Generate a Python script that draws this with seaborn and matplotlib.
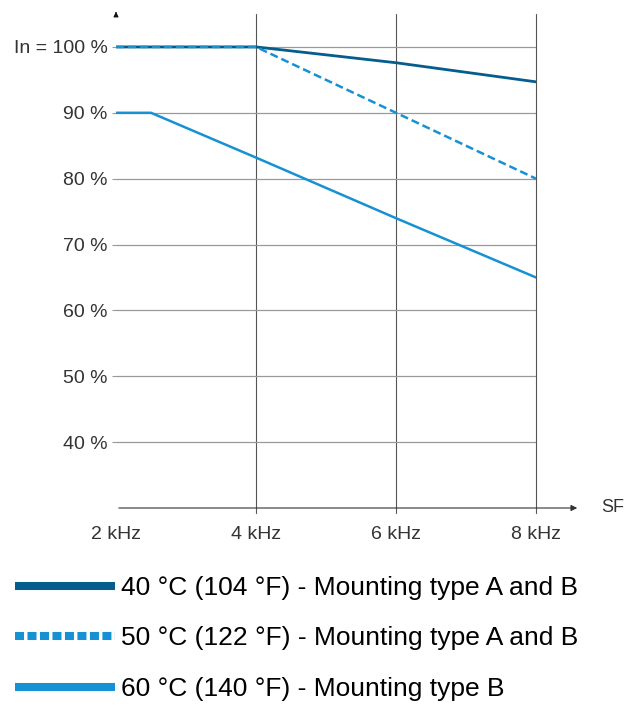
import matplotlib
matplotlib.use("Agg")
import matplotlib.pyplot as plt
import seaborn as sns
import pandas as pd
from matplotlib.lines import Line2D

# derating curves, switching frequency (kHz) vs. In (%)
freq_40 = [2, 4, 6, 8]
pct_40 = [100, 100, 97.6, 94.7]
freq_50 = [2, 4, 6, 8]
pct_50 = [100, 100, 90, 80]
freq_60 = [2, 2.5, 4, 6, 8]
pct_60 = [90, 90, 83.2, 74, 65]

labels = ["40 °C (104 °F) - Mounting type A and B",
          "50 °C (122 °F) - Mounting type A and B",
          "60 °C (140 °F) - Mounting type B"]
x_ticks = [2, 4, 6, 8]
x_ticklabels = ["2 kHz", "4 kHz", "6 kHz", "8 kHz"]
y_ticks = [40, 50, 60, 70, 80, 90, 100]
y_ticklabels = ["40 %", "50 %", "60 %", "70 %", "80 %", "90 %", "In = 100 %"]

dark = "#045d8c"
light = "#1591d4"

sns.set_style("white")
plt.rcParams["font.family"] = ["Liberation Sans", "DejaVu Sans"]

fig = plt.figure(figsize=(6.27, 7.06), dpi=100)
ax = fig.add_axes([116 / 627, (706 - 508) / 706, 420 / 627, 494 / 706])

# grid
for xv in x_ticks[1:]:
    ax.axvline(xv, ymin=-0.01, color="#555555", lw=0.8, zorder=1, clip_on=False)
for yv in y_ticks:
    ax.axhline(yv, color="#999999", lw=0.9, zorder=1)

df = pd.concat([
    pd.DataFrame({"f": freq_40, "p": pct_40, "s": labels[0]}),
    pd.DataFrame({"f": freq_50, "p": pct_50, "s": labels[1]}),
    pd.DataFrame({"f": freq_60, "p": pct_60, "s": labels[2]}),
])

sns.lineplot(data=df[df.s == labels[2]], x="f", y="p", color=light, lw=1.8, ax=ax, zorder=3)
sns.lineplot(data=df[df.s == labels[0]], x="f", y="p", color=dark, lw=2.0, ax=ax, zorder=3)
sns.lineplot(data=df[df.s == labels[1]], x="f", y="p", color=light, lw=1.8, ax=ax,
             linestyle=(0, (3.2, 1.6)), zorder=4)

ax.set_xlim(2, 8)
ax.set_ylim(30, 105)
ax.set_xticks(x_ticks)
ax.set_xticklabels(x_ticklabels)
ax.set_yticks(y_ticks)
ax.set_yticklabels(y_ticklabels)
ax.tick_params(axis="x", labelsize=14, labelcolor="#333333", length=0, pad=13)
ax.tick_params(axis="y", labelsize=14, labelcolor="#333333", left=True, length=3,
               width=0.8, color="#999999", pad=3)
ax.set_xlabel("")
ax.set_ylabel("")
for sp in ax.spines.values():
    sp.set_visible(False)

# axis arrows
ax.annotate("", xy=(580 / 627, (706 - 508) / 706), xytext=(116 / 627, (706 - 508) / 706),
            xycoords="figure fraction", textcoords="figure fraction",
            arrowprops=dict(arrowstyle="-|>", color="#333333", lw=0.8, mutation_scale=9))
ax.annotate("", xy=(116 / 627, (706 - 9) / 706), xytext=(116 / 627, (706 - 16) / 706),
            xycoords="figure fraction", textcoords="figure fraction",
            arrowprops=dict(arrowstyle="-|>", color="#111111", lw=0.8, mutation_scale=7))
fig.text(601 / 627, (706 - 508) / 706, "SF", fontsize=13, color="#333333",
         ha="left", va="center")

handles = [Line2D([], [], color=dark, lw=5.8, solid_capstyle="butt"),
           Line2D([], [], color=light, lw=5.8, linestyle=(0, (1.12, 0.43)), dash_capstyle="butt"),
           Line2D([], [], color=light, lw=5.8, solid_capstyle="butt")]
fig.legend(handles, labels, loc="upper left", bbox_to_anchor=(15 / 627, (706 - 576) / 706),
           frameon=False, fontsize=19, handlelength=3.8, handletextpad=0.2,
           labelspacing=1.0, borderpad=0, borderaxespad=0, labelcolor="black")

fig.savefig("out.png", dpi=100)
